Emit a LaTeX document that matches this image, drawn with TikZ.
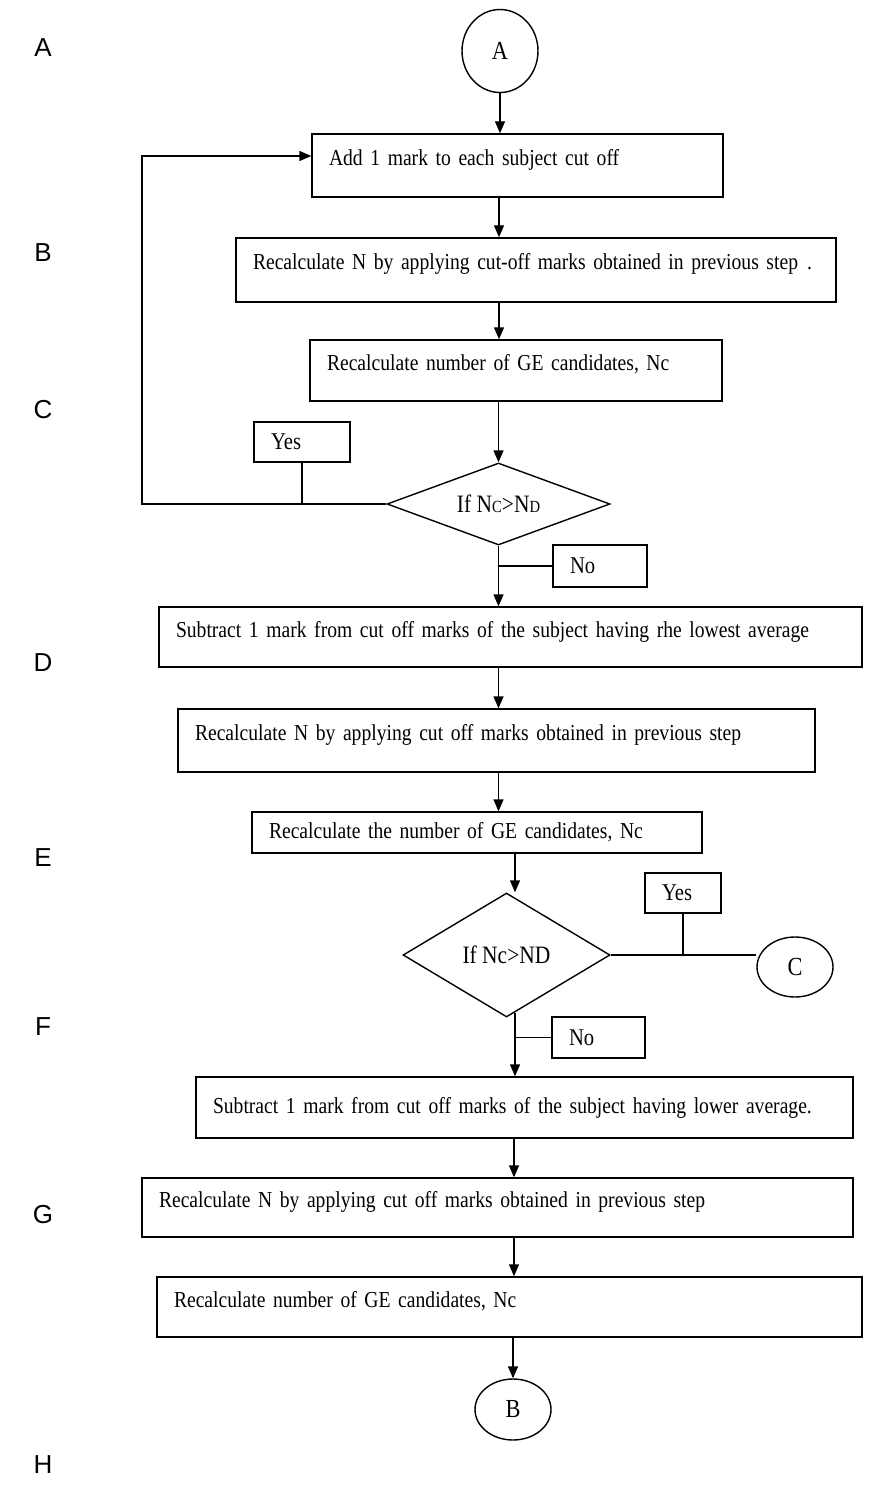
\documentclass[tikz,border=0pt]{standalone}
\usepackage{fontspec}
\setmainfont{Liberation Serif}[FakeStretch=0.86]
\newfontfamily\lblfont{Liberation Sans}
\usetikzlibrary{arrows.meta,shapes.geometric}
\begin{document}
\begin{tikzpicture}[x=1pt,y=-1pt,
  every node/.style={font=\fontsize{22.8}{26}\selectfont},
  ln/.style={line width=1.4pt},
  arr/.style={line width=1.4pt,-{Triangle[length=12pt,width=10pt]}},
  procbox/.style={draw,line width=1.4pt,align=left,inner xsep=17pt,inner ysep=0pt,text height=13pt,text depth=13pt},
  procmid/.style={draw,line width=1.4pt,align=left,inner xsep=17pt,inner ysep=0pt},
  tagbox/.style={draw,line width=1.4pt,align=left,inner xsep=17pt,inner ysep=0pt,font=\fontsize{24}{26}\selectfont},
  decide/.style={draw,line width=1.4pt,shape=diamond,inner sep=0pt,font=\fontsize{25}{28}\selectfont},
  conn/.style={draw,line width=1.4pt,shape=ellipse,inner sep=0pt,minimum width=76pt,font=\fontsize{26}{28}\selectfont},
  side/.style={font=\lblfont\fontsize{26}{30}\selectfont}
]
\useasboundingbox (0,0) rectangle (874,1487);

% side letters
\node[side] (lA) at (43,48) {A};
\node[side] (lB) at (43,253) {B};
\node[side] (lC) at (43,410) {C};
\node[side] (lD) at (43,663) {D};
\node[side] (lE) at (43,858) {E};
\node[side] (lF) at (43,1027) {F};
\node[side] (lG) at (43,1215) {G};
\node[side] (lH) at (43,1465) {H};

% axes
\coordinate (ax1) at (499,0);
\coordinate (ax2) at (515,0);
\coordinate (ax3) at (514,0);
\coordinate (loopc) at (142,504);

% nodes
\node[conn,minimum height=83pt] (circA) at (500,51) {A};
\node[procbox,minimum height=63pt,text width=377pt] (b1) at (517.5,165.5) {Add 1 mark to each subject cut off};
\node[procbox,minimum height=64pt,text width=566pt] (b2) at (536,270) {Recalculate N by applying cut-off marks obtained in previous step\hspace{9pt}.};
\node[procbox,minimum height=61pt,text width=378pt] (b3) at (516,370.5) {Recalculate number of GE candidates, Nc};
\node[decide,minimum width=223pt,minimum height=82pt,aspect=2.7] (d1) at (498.5,504) {If N{\fontsize{17}{17}\selectfont C}>N{\fontsize{17}{17}\selectfont D}};
\node[tagbox,minimum height=40pt,text width=62pt] (yes1) at (302,442) {Yes};
\node[tagbox,minimum height=42pt,text width=60pt] (no1) at (600,566) {No};
\node[procbox,minimum height=60pt,text width=669pt] (bD) at (510.5,637) {Subtract 1 mark from cut off marks of the subject having rhe lowest average};
\node[procbox,minimum height=63pt,text width=603pt] (bE) at (496.5,740.5) {Recalculate N by applying cut off marks obtained in previous step};
\node[procmid,minimum height=41pt,text width=416pt] (bF) at (477,832.5) {Recalculate the number of GE candidates, Nc};
\node[decide,minimum width=207pt,minimum height=124pt,aspect=1.7] (d2) at (506.5,955) {If Nc>ND};
\node[tagbox,minimum height=40pt,text width=42pt] (yes2) at (683,893) {Yes};
\node[conn,minimum height=60pt] (circC) at (795,967) {C};
\node[tagbox,minimum height=41pt,text width=59pt] (no2) at (598.5,1037.5) {No};
\node[procmid,minimum height=61pt,text width=623pt] (bG) at (524.5,1107.5) {Subtract 1 mark from cut off marks of the subject having lower average.};
\node[procbox,minimum height=59pt,text width=677pt] (bH) at (497.5,1207.5) {Recalculate N by applying cut off marks obtained in previous step};
\node[procbox,minimum height=60pt,text width=671pt] (bI) at (509.5,1307) {Recalculate number of GE candidates, Nc};
\node[conn,minimum height=61pt] (circB) at (513,1409.5) {B};

% connectors
\draw[arr] (circA.south) -- (circA.south |- b1.north);
\draw[arr] (b1.south -| ax1) -- (b2.north -| ax1);
\draw[arr] (b2.south -| ax1) -- (b3.north -| ax1);
\draw[arr] (b3.south -| d1.north) -- (d1.north);
\draw[arr] (d1.south) -- (d1.south |- bD.north);
\draw[ln] (d1.south |- no1.west) -- (no1.west);
\draw[ln] (yes1.south) -- (yes1.south |- d1.west);
\draw[arr] (d1.west) -- (loopc) |- ([yshift=9.5pt]b1.west);
\draw[arr] (bD.south -| d1.south) -- (bE.north -| d1.south);
\draw[arr] (bE.south -| d1.south) -- (bF.north -| d1.south);
\draw[arr] (bF.south -| ax2) -- (ax2 |- d2.north);
\draw[arr] ([yshift=5pt]ax2 |- d2.south) -- (ax2 |- bG.north);
\draw[ln] (ax2 |- no2.west) -- (no2.west);
\draw[ln] (yes2.south) -- (yes2.south |- d2.east);
\draw[ln] (d2.east) -- (d2.east -| circC.west);
\draw[arr] (bG.south -| ax3) -- (bH.north -| ax3);
\draw[arr] (bH.south -| ax3) -- (bI.north -| ax3);
\draw[arr] (bI.south -| circB.north) -- (circB.north);
\end{tikzpicture}
\end{document}
